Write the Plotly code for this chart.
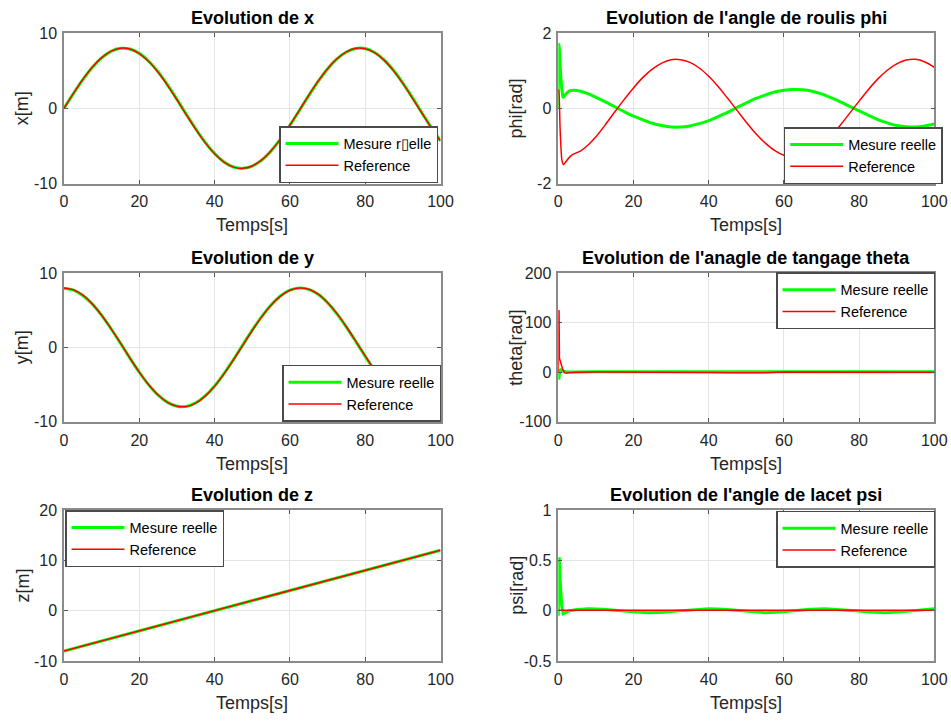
import plotly.graph_objects as go

# ---------------- data ----------------
t_sin = [0, 2.5, 5, 7.5, 10, 12.5, 15, 17.5, 20, 22.5, 25, 27.5, 30, 32.5, 35, 37.5,
         40, 42.5, 45, 47.5, 50, 52.5, 55, 57.5, 60, 62.5, 65, 67.5, 70, 72.5, 75,
         77.5, 80, 82.5, 85, 87.5, 90, 92.5, 95, 97.5, 100]

x_ref = [0, 1.98, 3.84, 5.45, 6.73, 7.59, 7.98, 7.87, 7.27, 6.22, 4.79, 3.05, 1.13,
         -0.87, -2.81, -4.57, -6.05, -7.16, -7.82, -7.99, -7.67, -6.87, -5.64, -4.07,
         -2.24, -0.27, 1.72, 3.60, 5.26, 6.58, 7.50, 7.96, 7.92, 7.38, 6.39, 5.00,
         3.30, 1.39, -0.60, -2.56, -4.35]
x_mes = [0, 1.95, 3.80, 5.42, 6.70, 7.57, 7.96, 7.87, 7.29, 6.25, 4.83, 3.10, 1.18,
         -0.82, -2.76, -4.53, -6.02, -7.14, -7.81, -7.99, -7.68, -6.89, -5.67, -4.11,
         -2.28, -0.31, 1.68, 3.56, 5.22, 6.55, 7.48, 7.95, 7.93, 7.40, 6.42, 5.04,
         3.34, 1.44, -0.56, -2.52, -4.31]

y_ref = [8.0, 7.75, 7.02, 5.85, 4.32, 2.52, 0.57, -1.43, -3.33, -5.03, -6.41, -7.39,
         -7.92, -7.95, -7.49, -6.56, -5.23, -3.57, -1.69, 0.30, 2.27, 4.10, 5.67, 6.89,
         7.68, 7.99, 7.81, 7.15, 6.03, 4.54, 2.77, 0.83, -1.16, -3.08, -4.82, -6.25,
         -7.29, -7.88, -7.98, -7.58, -6.71]
y_mes = [7.9, 7.70, 6.98, 5.82, 4.30, 2.50, 0.55, -1.45, -3.35, -5.05, -6.43, -7.40,
         -7.92, -7.94, -7.47, -6.53, -5.20, -3.53, -1.65, 0.34, 2.31, 4.13, 5.70, 6.91,
         7.69, 7.99, 7.80, 7.13, 6.00, 4.51, 2.73, 0.79, -1.20, -3.12, -4.85, -6.28,
         -7.31, -7.89, -7.98, -7.56, -6.68]

t_z = [0, 25, 50, 75, 100]
z_ref = [-8.0, -3.0, 2.0, 7.0, 12.0]
z_mes = [-8.0, -3.0, 2.0, 7.0, 12.0]

t_phi_mes = [0, 0.15, 0.3, 0.6, 1.0, 1.3, 2.0, 3.0, 4.0, 6.0, 8.0, 10, 12.5, 15, 17.5,
             20, 22.5, 25, 27.5, 30, 32.5, 35, 37.5, 40, 42.5, 45, 47.5, 50, 52.5, 55,
             57.5, 60, 62.5, 65, 67.5, 70, 72.5, 75, 77.5, 80, 82.5, 85, 87.5, 90, 92.5,
             95, 97.5, 100]
phi_mes = [0, 1.70, 1.55, 0.95, 0.45, 0.29, 0.38, 0.46, 0.48, 0.45, 0.38, 0.29, 0.17,
           0.04, -0.09, -0.21, -0.31, -0.40, -0.46, -0.50, -0.50, -0.47, -0.41, -0.33,
           -0.22, -0.11, 0.02, 0.14, 0.26, 0.35, 0.43, 0.48, 0.50, 0.49, 0.45, 0.38,
           0.28, 0.17, 0.05, -0.07, -0.19, -0.30, -0.39, -0.46, -0.49, -0.50, -0.47,
           -0.42]

t_phi_ref = [0, 0.15, 0.5, 1.0, 1.4, 2.0, 3.0, 4.0, 6.0, 8.0, 10, 12.5, 15, 17.5, 20,
             22.5, 25, 27.5, 30, 32.5, 35, 37.5, 40, 42.5, 45, 47.5, 50, 52.5, 55, 57.5,
             60, 62.5, 65, 67.5, 70, 72.5, 75, 77.5, 80, 82.5, 85, 87.5, 90, 92.5, 95,
             97.5, 100]
phi_ref = [0.50, 0.45, -0.60, -1.40, -1.50, -1.42, -1.30, -1.22, -1.13, -0.97, -0.76,
           -0.44, -0.10, 0.23, 0.54, 0.82, 1.04, 1.20, 1.29, 1.29, 1.22, 1.07, 0.85,
           0.58, 0.27, -0.05, -0.37, -0.67, -0.92, -1.12, -1.25, -1.30, -1.27, -1.16,
           -0.98, -0.74, -0.45, -0.13, 0.19, 0.50, 0.78, 1.01, 1.18, 1.28, 1.30, 1.23,
           1.09]

t_theta_mes = [0, 0.1, 0.25, 0.5, 1.0, 2.0, 3.0, 5, 10, 20, 30, 40, 50, 60, 70, 80, 90, 100]
theta_mes = [0, -15, -8, 6, 3, 1, 0.5, 0.5, 0.8, 0.5, 0.6, 0.8, 0.4, 0.7, 0.8, 0.5, 0.6, 0.7]

t_theta_ref = [0, 0.1, 0.2, 0.3, 0.5, 0.8, 1.2, 1.6, 2.2, 3.0, 5, 10, 20, 30, 40, 45,
               50, 55, 60, 70, 80, 90, 100]
theta_ref = [0, 125, 124, 28, 22, 14, 5, -1, -2, -1, 0, 0.3, 0.5, 0.2, -0.5, -1.2,
             -1.5, -1.0, 0.3, 0.6, 0.2, -0.3, -0.2]

t_psi_mes = [0, 0.1, 0.25, 0.5, 0.9, 1.3, 2, 3, 5, 8, 12, 16, 20, 24, 28, 32, 36, 40,
             44, 48, 52, 55, 59, 63, 67, 71, 75, 79, 83, 87, 91, 95, 100]
psi_mes = [-0.05, 0.30, 0.53, 0.30, 0.05, -0.03, -0.02, 0.0, 0.012, 0.02, 0.015, 0.0,
           -0.012, -0.02, -0.015, -0.002, 0.012, 0.02, 0.015, 0.0, -0.014, -0.02,
           -0.014, 0.0, 0.014, 0.02, 0.012, -0.002, -0.014, -0.02, -0.012, 0.005, 0.02]
t_psi_ref = [0, 25, 50, 75, 100]
psi_ref = [0.003, 0.003, 0.003, 0.003, 0.003]

x_ticks = [0, 20, 40, 60, 80, 100]
x_ticktext = ["0", "20", "40", "60", "80", "100"]

titles = ["Evolution de x", "Evolution de l'angle de roulis phi",
          "Evolution de y", "Evolution de l'anagle de tangage theta",
          "Evolution de z", "Evolution de l'angle de lacet psi"]
ylabels = ["x[m]", "phi[rad]", "y[m]", "theta[rad]", "z[m]", "psi[rad]"]
xlabel = "Temps[s]"
legend_mes = ["Mesure r\u25afelle", "Mesure reelle", "Mesure reelle",
              "Mesure reelle", "Mesure reelle", "Mesure reelle"]
legend_ref = "Reference"

yranges = [[-10, 10], [-2, 2], [-10, 10], [-100, 200], [-10, 20], [-0.5, 1]]
ytickvals = [[-10, 0, 10], [-2, 0, 2], [-10, 0, 10], [-100, 0, 100, 200],
             [-10, 0, 10, 20], [-0.5, 0, 0.5, 1]]
yticktext = [["-10", "0", "10"], ["-2", "0", "2"], ["-10", "0", "10"],
             ["-100", "0", "100", "200"], ["-10", "0", "10", "20"],
             ["-0.5", "0", "0.5", "1"]]

series = [
    (t_sin, x_mes, t_sin, x_ref),
    (t_phi_mes, phi_mes, t_phi_ref, phi_ref),
    (t_sin, y_mes, t_sin, y_ref),
    (t_theta_mes, theta_mes, t_theta_ref, theta_ref),
    (t_z, z_mes, t_z, z_ref),
    (t_psi_mes, psi_mes, t_psi_ref, psi_ref),
]
line_shapes = ["spline", "spline", "spline", "linear", "linear", "linear"]

# ---------------- layout geometry (page pixels) ----------------
OFF = 0                 # page body margin is removed below
W, H = 951, 722
col_px = [(64, 440.5), (558.3, 934.3)]
row_px = [(33, 183.5), (273, 421.7), (510, 661)]

# legend anchor: (x_px, y_px, xanchor, yanchor) in page pixels
legend_pos = [
    (438, 183, "right", "bottom"),
    (942.7, 184, "right", "bottom"),
    (441, 421.7, "right", "bottom"),
    (935, 272.3, "right", "top"),
    (65, 510, "left", "top"),
    (935, 510.7, "right", "top"),
]


def px(p):
    return (p - OFF) / W


def py(p):
    return 1 - (p - OFF) / H


GREEN = "#00ff00"
RED = "#ff0000"
FONT = "Liberation Sans, Arial, sans-serif"
TXT = "#262626"

fig = go.Figure()
layout = dict(template="none", width=W, height=H,
              margin=dict(l=0, r=0, t=0, b=0, pad=0, autoexpand=False),
              paper_bgcolor="white", plot_bgcolor="white",
              font=dict(family=FONT, color=TXT), annotations=[])

for i in range(6):
    r, c = divmod(i, 2)
    n = i + 1
    xa = "x" if n == 1 else f"x{n}"
    ya = "y" if n == 1 else f"y{n}"
    lg = "legend" if n == 1 else f"legend{n}"
    tm, vm, tr, vr = series[i]
    shp = line_shapes[i]
    fig.add_trace(go.Scatter(x=tm, y=vm, mode="lines", name=legend_mes[i],
                             line=dict(color=GREEN, width=3, shape=shp, smoothing=0.8),
                             xaxis=xa, yaxis=ya, legend=lg))
    fig.add_trace(go.Scatter(x=tr, y=vr, mode="lines", name=legend_ref,
                             line=dict(color=RED, width=1.5, shape=shp, smoothing=0.8),
                             xaxis=xa, yaxis=ya, legend=lg))
    x0, x1 = col_px[c]
    y0, y1 = row_px[r]
    common = dict(showline=True, linecolor="#8a8a8a", linewidth=1.5, mirror="ticks",
                  ticks="inside", ticklen=4, tickcolor="#555555", tickwidth=1,
                  showgrid=True, gridcolor="#e4e4e4", gridwidth=1, zeroline=False,
                  automargin=False,
                  tickfont=dict(size=16, color=TXT, family=FONT))
    layout["xaxis" if n == 1 else f"xaxis{n}"] = dict(
        domain=[px(x0), px(x1)], anchor=ya, range=[0, 100],
        tickvals=x_ticks, ticktext=x_ticktext, ticklabelstandoff=3, **common)
    layout["yaxis" if n == 1 else f"yaxis{n}"] = dict(
        domain=[py(y1), py(y0)], anchor=xa, range=yranges[i],
        tickvals=ytickvals[i], ticktext=yticktext[i], ticklabelstandoff=2, **common)
    lx, ly, xan, yan = legend_pos[i]
    layout[lg] = dict(x=px(lx), y=py(ly), xanchor=xan, yanchor=yan,
                      xref="paper", yref="paper",
                      bgcolor="white", bordercolor="#4a4a4a", borderwidth=1.5,
                      font=dict(size=14.5, color="#000000", family=FONT),
                      itemwidth=53, tracegroupgap=0)
    # title
    layout["annotations"].append(dict(
        text=f"<b>{titles[i]}</b>", x=px((x0 + x1) / 2), y=py(y0 - 15),
        xref="paper", yref="paper", showarrow=False, xanchor="center",
        yanchor="middle", font=dict(size=18, color="#000000", family=FONT)))
    # x label
    layout["annotations"].append(dict(
        text=xlabel, x=px((x0 + x1) / 2), y=py(y1 + 42),
        xref="paper", yref="paper", showarrow=False, xanchor="center",
        yanchor="middle", font=dict(size=18, color=TXT, family=FONT)))
    # y label
    layout["annotations"].append(dict(
        text=ylabels[i], x=px(x0 - 42), y=py((y0 + y1) / 2),
        xref="paper", yref="paper", showarrow=False, xanchor="center",
        yanchor="middle", textangle=-90,
        font=dict(size=18, color=TXT, family=FONT)))

fig.update_layout(**layout)
fig.write_html(
    "out.html",
    config={"displayModeBar": False},
    post_script=("document.body.style.margin='0';"
                 "document.documentElement.style.overflow='hidden';"))
